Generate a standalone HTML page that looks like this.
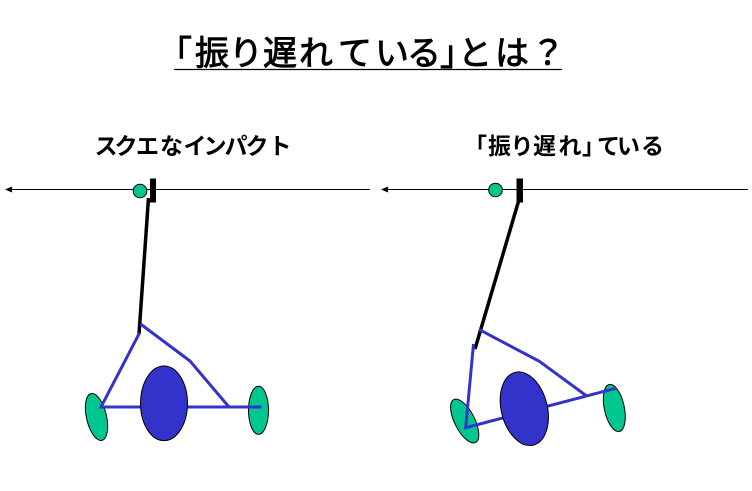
<!DOCTYPE html>
<html><head><meta charset="utf-8"><style>
html,body{margin:0;padding:0;background:#fff}
svg{display:block}
text{font-family:"Liberation Sans","Noto Sans CJK JP",sans-serif;fill:#000}
</style></head><body>
<svg width="752" height="491" viewBox="0 0 752 491" xmlns="http://www.w3.org/2000/svg">
<text x="158 195 229 263 299 338 375 407 440 458 495 531" y="65" font-size="34" stroke="#000" stroke-width="0.9">「振り遅れている」とは？</text>
<line x1="174" y1="69.500" x2="562" y2="69.500" stroke="#000" stroke-width="1.300"/>
<text x="94.500 114.500 136 160 183.500 203.500 224.500 245.500 268.500" y="154" font-size="23" font-weight="bold">スクエなインパクト</text>
<text x="464 488 510.500 533 558.500 582 597 617 641" y="154" font-size="23" font-weight="bold">「振り遅れ」ている</text>

<line x1="370" y1="189.500" x2="10" y2="189.500" stroke="#000" stroke-width="1"/>
<polygon points="5,189.500 12,186.500 12,192.500" fill="#000"/>
<line x1="748" y1="189.500" x2="386" y2="189.500" stroke="#000" stroke-width="1"/>
<polygon points="381,189.500 388,186.500 388,192.500" fill="#000"/>

<circle cx="140" cy="191" r="6.800" fill="#00c78f" stroke="#000" stroke-width="1"/>
<rect x="150" y="178.500" width="6" height="24" fill="#000"/>
<line x1="148.500" y1="198" x2="139" y2="334" stroke="#000" stroke-width="3.500"/>

<ellipse cx="96.500" cy="417" rx="10" ry="24" transform="rotate(-13 96.500 417)" fill="#00c78f" stroke="#000" stroke-width="1"/>
<ellipse cx="258.500" cy="410.300" rx="10" ry="24" fill="#00c78f" stroke="#000" stroke-width="1"/>
<polyline points="139.500,333 101,407 261.500,407" fill="none" stroke="#3333cc" stroke-width="3"/>
<polyline points="140.500,324 190,361 229,407" fill="none" stroke="#3333cc" stroke-width="3"/>
<ellipse cx="164" cy="403.300" rx="23.500" ry="37.300" fill="#3333cc" stroke="#000" stroke-width="1"/>

<circle cx="495.500" cy="190" r="6.800" fill="#00c78f" stroke="#000" stroke-width="1"/>
<rect x="516.500" y="178.500" width="6.500" height="24" fill="#000"/>
<line x1="519.500" y1="198" x2="475" y2="349" stroke="#000" stroke-width="3.500"/>

<ellipse cx="464.700" cy="421" rx="10" ry="24" transform="rotate(-27 464.700 421)" fill="#00c78f" stroke="#000" stroke-width="1"/>
<ellipse cx="614.300" cy="408" rx="10" ry="24" transform="rotate(-12 614.300 408)" fill="#00c78f" stroke="#000" stroke-width="1"/>
<polyline points="473.500,344 465.700,427.700 615.700,388.300" fill="none" stroke="#3333cc" stroke-width="3"/>
<polyline points="478.700,329.300 539.300,361.300 586.700,396" fill="none" stroke="#3333cc" stroke-width="3"/>
<ellipse cx="524.300" cy="408.700" rx="23" ry="37.500" transform="rotate(-14 524.300 408.700)" fill="#3333cc" stroke="#000" stroke-width="1"/>
</svg>
</body></html>
